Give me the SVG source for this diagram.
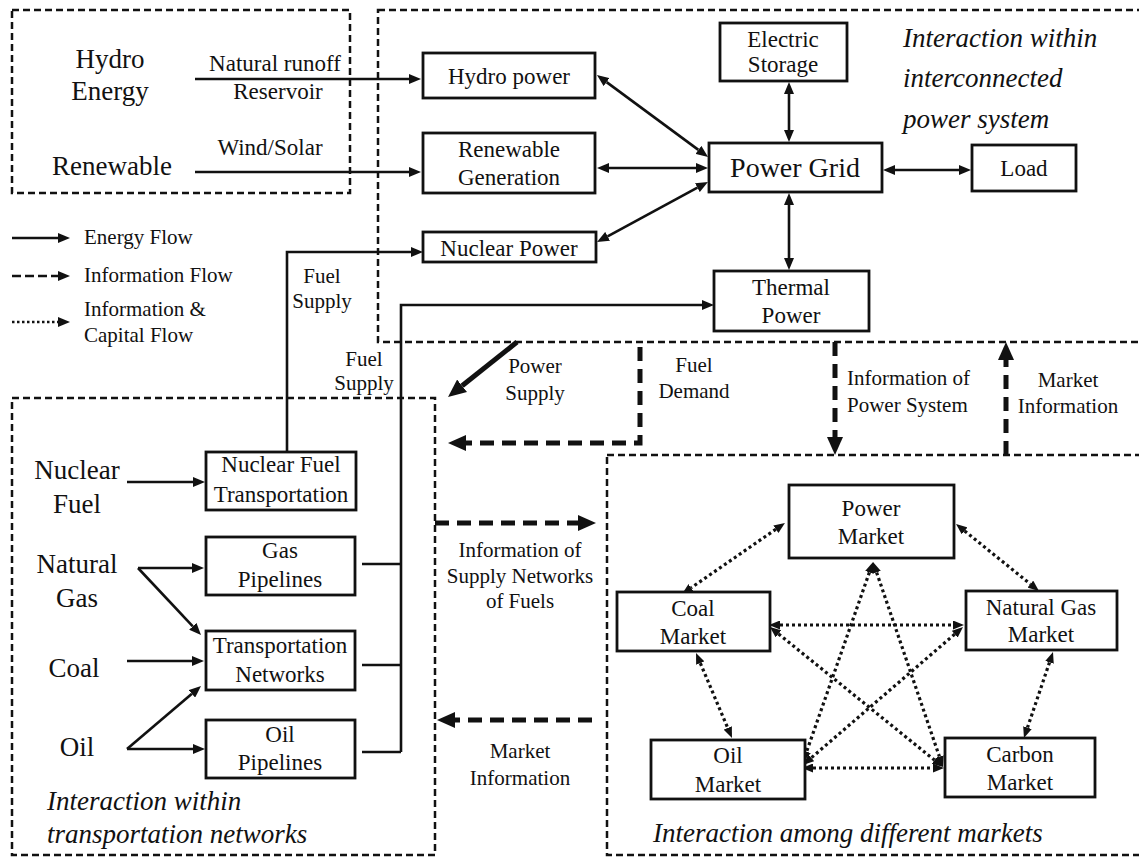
<svg xmlns="http://www.w3.org/2000/svg" width="1139" height="857" viewBox="0 0 1139 857">
<defs>
<style>
text{font-family:"Liberation Serif","Times New Roman",Tinos,"Noto Serif",FreeSerif,Times,"DejaVu Serif",serif;fill:#111}
.c{text-anchor:middle}
.lb{font-size:23px}
.big{font-size:27px}
.md{font-size:21px}
.it{font-size:27px;font-style:italic}
.box{fill:#fff;stroke:#111;stroke-width:2.8}
.frame{fill:none;stroke:#111;stroke-width:2.5;stroke-dasharray:7 4}
.e{fill:none;stroke:#111;stroke-width:2.6}
.pw{fill:none;stroke:#111;stroke-width:5}
.info{fill:none;stroke:#111;stroke-width:5;stroke-dasharray:14 8}
.dot{fill:none;stroke:#111;stroke-width:3.2;stroke-dasharray:3 3}
</style>
<marker id="a" viewBox="0 0 12 10" refX="0" refY="5" markerWidth="12" markerHeight="10" markerUnits="userSpaceOnUse" orient="auto-start-reverse"><path d="M0,0L12,5L0,10Z" fill="#111"/></marker>
<marker id="b" viewBox="0 0 18 16" refX="0" refY="8" markerWidth="18" markerHeight="16" markerUnits="userSpaceOnUse" orient="auto-start-reverse"><path d="M0,0L18,8L0,16Z" fill="#111"/></marker>
<marker id="d" viewBox="0 0 11 9" refX="0" refY="4.5" markerWidth="11" markerHeight="9" markerUnits="userSpaceOnUse" orient="auto-start-reverse"><path d="M0,0L11,4.5L0,9Z" fill="#111"/></marker>
</defs>
<rect width="1139" height="857" fill="#fff"/>

<g id="frames">
<rect class="frame" x="12" y="10" width="338" height="183"/>
<rect class="frame" x="378" y="10" width="775" height="332"/>
<rect class="frame" x="12" y="398" width="423" height="457"/>
<rect class="frame" x="607" y="455" width="545" height="400"/>
</g>

<g id="connectors">
<line class="e" x1="195" y1="79" x2="409" y2="79" marker-end="url(#a)"/>
<line class="e" x1="195" y1="172" x2="409" y2="172" marker-end="url(#a)"/>
<line class="e" x1="606.6" y1="82.1" x2="698.4" y2="149.9" marker-start="url(#a)" marker-end="url(#a)"/>
<line class="e" x1="609" y1="168" x2="696" y2="168" marker-start="url(#a)" marker-end="url(#a)"/>
<line class="e" x1="607.6" y1="236.3" x2="697.4" y2="187.7" marker-start="url(#a)" marker-end="url(#a)"/>
<line class="e" x1="789" y1="94" x2="789" y2="130" marker-start="url(#a)" marker-end="url(#a)"/>
<line class="e" x1="895" y1="170" x2="959" y2="170" marker-start="url(#a)" marker-end="url(#a)"/>
<line class="e" x1="789" y1="205" x2="789" y2="258" marker-start="url(#a)" marker-end="url(#a)"/>
<path class="e" d="M287,452V252H411" marker-end="url(#a)"/>
<path class="e" d="M401,752V305H702" marker-end="url(#a)"/>
<path class="e" d="M362,564H401M362,665H401M362,752H401"/>
<line class="e" x1="127" y1="482" x2="193" y2="482" marker-end="url(#a)"/>
<line class="e" x1="138" y1="568" x2="192" y2="568" marker-end="url(#a)"/>
<line class="e" x1="138" y1="568" x2="192.8" y2="626.3" marker-end="url(#a)"/>
<line class="e" x1="127" y1="661" x2="192" y2="661" marker-end="url(#a)"/>
<line class="e" x1="127" y1="749" x2="193" y2="749" marker-end="url(#a)"/>
<line class="e" x1="127" y1="749" x2="191.9" y2="693.8" marker-end="url(#a)"/>
<line class="e" x1="12" y1="238" x2="58" y2="238" marker-end="url(#a)"/>
<line class="e" x1="12" y1="276" x2="58" y2="276" stroke-width="3" stroke-dasharray="9 4" marker-end="url(#a)"/>
<line class="e" x1="12" y1="322" x2="58" y2="322" stroke-width="3" stroke-dasharray="2.5 2.5" marker-end="url(#a)"/>
<line class="pw" x1="517" y1="342" x2="462.1" y2="385.8" marker-end="url(#b)"/>
<path class="info" d="M640,347V443H466" marker-end="url(#b)"/>
<line class="info" x1="435" y1="523" x2="578" y2="523" marker-end="url(#b)"/>
<line class="info" x1="592" y1="720" x2="455" y2="720" marker-end="url(#b)"/>
<line class="info" x1="835" y1="342" x2="835" y2="437" marker-end="url(#b)"/>
<line class="info" x1="1006" y1="455" x2="1006" y2="360" marker-end="url(#b)"/>
<line class="dot" x1="775.9" y1="529.2" x2="691.1" y2="587.8" marker-start="url(#d)" marker-end="url(#d)"/>
<line class="dot" x1="964.6" y1="530.9" x2="1030.4" y2="584.1" marker-start="url(#d)" marker-end="url(#d)"/>
<line class="dot" x1="780" y1="625" x2="953" y2="625" marker-start="url(#d)" marker-end="url(#d)"/>
<line class="dot" x1="700.3" y1="663.1" x2="727.7" y2="727.9" marker-start="url(#d)" marker-end="url(#d)"/>
<line class="dot" x1="1049.5" y1="662.4" x2="1027.5" y2="727.6" marker-start="url(#d)" marker-end="url(#d)"/>
<line class="dot" x1="813" y1="768" x2="933" y2="768" marker-start="url(#d)" marker-end="url(#d)"/>
<line class="dot" x1="869.4" y1="572.4" x2="806.6" y2="751.6" marker-start="url(#d)" marker-end="url(#d)"/>
<line class="dot" x1="876.6" y1="572.4" x2="939.4" y2="756.6" marker-start="url(#d)" marker-end="url(#d)"/>
<line class="dot" x1="778.5" y1="633.9" x2="934.5" y2="760.1" marker-start="url(#d)" marker-end="url(#d)"/>
<line class="dot" x1="954.7" y1="634.2" x2="811.3" y2="757.8" marker-start="url(#d)" marker-end="url(#d)"/>
</g>

<g id="labels">
<text class="big c" x="110" y="68">Hydro</text>
<text class="big c" x="110" y="100">Energy</text>
<text class="big c" x="112" y="175">Renewable</text>
<text class="lb c" x="275" y="71">Natural runoff</text>
<text class="lb c" x="278" y="99">Reservoir</text>
<text class="lb c" x="270" y="155">Wind/Solar</text>
<text class="md" x="84" y="244">Energy Flow</text>
<text class="md" x="84" y="282">Information Flow</text>
<text class="md" x="84" y="316">Information &amp;</text>
<text class="md" x="84" y="342">Capital Flow</text>
<text class="md c" x="322" y="283">Fuel</text>
<text class="md c" x="322" y="308">Supply</text>
<text class="md c" x="364" y="366">Fuel</text>
<text class="md c" x="364" y="390">Supply</text>
<text class="md c" x="535" y="373">Power</text>
<text class="md c" x="535" y="400">Supply</text>
<text class="md c" x="694" y="372">Fuel</text>
<text class="md c" x="694" y="398">Demand</text>
<text class="md" x="847" y="385">Information of</text>
<text class="md" x="847" y="412">Power System</text>
<text class="md c" x="1068" y="387">Market</text>
<text class="md c" x="1068" y="413">Information</text>
<text class="md c" x="520" y="557">Information of</text>
<text class="md c" x="520" y="583">Supply Networks</text>
<text class="md c" x="520" y="608">of Fuels</text>
<text class="md c" x="520" y="758">Market</text>
<text class="md c" x="520" y="785">Information</text>
<text class="it" x="903" y="47">Interaction within</text>
<text class="it" x="903" y="87">interconnected</text>
<text class="it" x="903" y="128">power system</text>
<text class="it" x="47" y="810">Interaction within</text>
<text class="it" x="47" y="843">transportation networks</text>
<text class="it" x="653" y="842">Interaction among different markets</text>
<text class="big c" x="77" y="479">Nuclear</text>
<text class="big c" x="77" y="513">Fuel</text>
<text class="big c" x="77" y="573">Natural</text>
<text class="big c" x="77" y="607">Gas</text>
<text class="big c" x="74" y="677">Coal</text>
<text class="big c" x="77" y="756">Oil</text>
</g>

<g id="hydro-power"><rect class="box" x="423" y="53" width="172" height="45"/><text class="lb c" x="509" y="84">Hydro power</text></g>
<g id="renewable-generation"><rect class="box" x="423" y="133" width="172" height="60"/><text class="lb c" x="509" y="157">Renewable</text><text class="lb c" x="509" y="185">Generation</text></g>
<g id="nuclear-power"><rect class="box" x="423" y="232" width="173" height="30"/><text class="lb c" x="509" y="256">Nuclear Power</text></g>
<g id="electric-storage"><rect class="box" x="720" y="23" width="127" height="58"/><text class="lb c" x="783" y="47">Electric</text><text class="lb c" x="783" y="72">Storage</text></g>
<g id="power-grid"><rect class="box" x="709" y="143" width="173" height="49"/><text class="c" style="font-size:28px" x="795" y="177">Power Grid</text></g>
<g id="load"><rect class="box" x="972" y="145" width="104" height="46"/><text class="lb c" x="1024" y="176">Load</text></g>
<g id="thermal-power"><rect class="box" x="714" y="271" width="155" height="60"/><text class="lb c" x="791" y="295">Thermal</text><text class="lb c" x="791" y="323">Power</text></g>
<g id="nuclear-fuel-transportation"><rect class="box" x="206" y="452" width="150" height="58"/><text class="lb c" x="281" y="472">Nuclear Fuel</text><text class="lb c" x="281" y="502">Transportation</text></g>
<g id="gas-pipelines"><rect class="box" x="206" y="537" width="149" height="58"/><text class="lb c" x="280" y="558">Gas</text><text class="lb c" x="280" y="587">Pipelines</text></g>
<g id="transportation-networks"><rect class="box" x="206" y="631" width="149" height="59"/><text class="lb c" x="280" y="653">Transportation</text><text class="lb c" x="280" y="682">Networks</text></g>
<g id="oil-pipelines"><rect class="box" x="206" y="720" width="149" height="58"/><text class="lb c" x="280" y="742">Oil</text><text class="lb c" x="280" y="770">Pipelines</text></g>
<g id="power-market"><rect class="box" x="789" y="485" width="165" height="73"/><text class="lb c" x="871" y="516">Power</text><text class="lb c" x="871" y="544">Market</text></g>
<g id="coal-market"><rect class="box" x="617" y="592" width="153" height="59"/><text class="lb c" x="693" y="616">Coal</text><text class="lb c" x="693" y="644">Market</text></g>
<g id="natural-gas-market"><rect class="box" x="966" y="591" width="151" height="59"/><text class="lb c" x="1041" y="615">Natural Gas</text><text class="lb c" x="1041" y="642">Market</text></g>
<g id="oil-market"><rect class="box" x="651" y="740" width="154" height="59"/><text class="lb c" x="728" y="763">Oil</text><text class="lb c" x="728" y="792">Market</text></g>
<g id="carbon-market"><rect class="box" x="945" y="738" width="150" height="59"/><text class="lb c" x="1020" y="762">Carbon</text><text class="lb c" x="1020" y="790">Market</text></g>
</svg>
